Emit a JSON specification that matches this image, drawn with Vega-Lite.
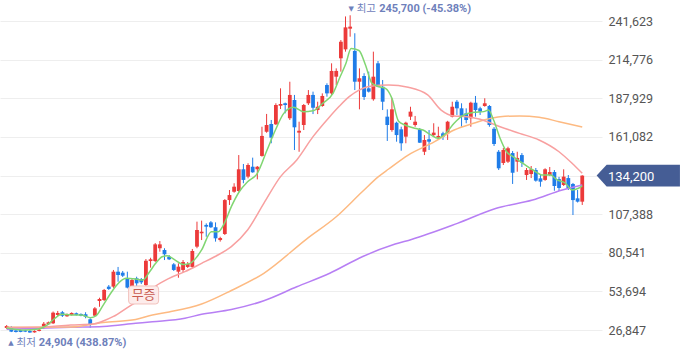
{
"$schema": "https://vega.github.io/schema/vega-lite/v6.json",
"width": 602, "height": 358,
"autosize": {"type": "none"},
"padding": {"left": 0, "top": 0, "right": 78, "bottom": 0},
"background": "white",
"config": {"view": {"stroke": null}},
"datasets": {
"candles": [
{"i":0,"o":28200,"h":30300,"l":27500,"c":29600},
{"i":1,"o":28400,"h":29600,"l":25400,"c":25700},
{"i":2,"o":26500,"h":26850,"l":25100,"c":25500},
{"i":3,"o":26800,"h":27200,"l":25300,"c":25500},
{"i":4,"o":26600,"h":27000,"l":25400,"c":25700},
{"i":5,"o":26200,"h":26800,"l":24904,"c":25100},
{"i":6,"o":25200,"h":26600,"l":25000,"c":26200},
{"i":7,"o":26200,"h":27500,"l":25900,"c":27100},
{"i":8,"o":28400,"h":32400,"l":27500,"c":31200},
{"i":9,"o":30800,"h":32700,"l":30300,"c":32200},
{"i":10,"o":31500,"h":39700,"l":31000,"c":38900},
{"i":11,"o":37300,"h":40100,"l":36600,"c":38700},
{"i":12,"o":39200,"h":40100,"l":35900,"c":36800},
{"i":13,"o":36400,"h":38300,"l":36000,"c":37800},
{"i":14,"o":37300,"h":39100,"l":36900,"c":38700},
{"i":15,"o":38500,"h":39000,"l":36900,"c":37300},
{"i":16,"o":38000,"h":38400,"l":36400,"c":36800},
{"i":17,"o":37800,"h":39200,"l":35000,"c":36100},
{"i":18,"o":34300,"h":35000,"l":28400,"c":30800},
{"i":19,"o":36800,"h":42800,"l":36600,"c":41900},
{"i":20,"o":47000,"h":49300,"l":43000,"c":48400},
{"i":21,"o":47700,"h":55400,"l":47000,"c":54700},
{"i":22,"o":57000,"h":58100,"l":54700,"c":55400},
{"i":23,"o":57000,"h":68600,"l":56100,"c":67400},
{"i":24,"o":67400,"h":70700,"l":60400,"c":65100},
{"i":25,"o":66700,"h":67900,"l":63700,"c":64600},
{"i":26,"o":62800,"h":67400,"l":55800,"c":56300},
{"i":27,"o":57400,"h":62300,"l":56700,"c":61600},
{"i":28,"o":62800,"h":63900,"l":57000,"c":59300},
{"i":29,"o":62300,"h":63000,"l":58800,"c":60000},
{"i":30,"o":58100,"h":76200,"l":57400,"c":75000},
{"i":31,"o":74800,"h":77100,"l":70200,"c":76000},
{"i":32,"o":74800,"h":87300,"l":74100,"c":86400},
{"i":33,"o":83700,"h":88700,"l":81300,"c":86400},
{"i":34,"o":82500,"h":83700,"l":75500,"c":79500},
{"i":35,"o":77800,"h":79000,"l":75500,"c":76000},
{"i":36,"o":72500,"h":73400,"l":67900,"c":68600},
{"i":37,"o":67400,"h":73200,"l":63200,"c":70900},
{"i":38,"o":68600,"h":75500,"l":67200,"c":74100},
{"i":39,"o":70700,"h":74100,"l":70000,"c":72700},
{"i":40,"o":70700,"h":83200,"l":70000,"c":81800},
{"i":41,"o":84800,"h":102200,"l":83700,"c":96400},
{"i":42,"o":94100,"h":102900,"l":89400,"c":95200},
{"i":43,"o":99900,"h":101000,"l":91700,"c":98700},
{"i":44,"o":101700,"h":102600,"l":97800,"c":98300},
{"i":45,"o":98300,"h":101700,"l":88300,"c":90600},
{"i":46,"o":89400,"h":91700,"l":88300,"c":90800},
{"i":47,"o":93600,"h":117900,"l":92900,"c":117200},
{"i":48,"o":117200,"h":124200,"l":113800,"c":120700},
{"i":49,"o":123000,"h":128900,"l":122300,"c":126500},
{"i":50,"o":123500,"h":148500,"l":123000,"c":138600},
{"i":51,"o":138600,"h":142300,"l":128900,"c":131200},
{"i":52,"o":133500,"h":142800,"l":132300,"c":141600},
{"i":53,"o":140400,"h":146700,"l":136200,"c":136500},
{"i":54,"o":138600,"h":140900,"l":131600,"c":140400},
{"i":55,"o":147900,"h":168200,"l":147400,"c":161800},
{"i":56,"o":164700,"h":177100,"l":164000,"c":169400},
{"i":57,"o":170100,"h":172900,"l":156700,"c":160600},
{"i":58,"o":169900,"h":184500,"l":169400,"c":183300},
{"i":59,"o":182800,"h":194900,"l":180500,"c":184000},
{"i":60,"o":184500,"h":185000,"l":177500,"c":183300},
{"i":61,"o":174100,"h":199500,"l":172900,"c":190300},
{"i":62,"o":186800,"h":190300,"l":152000,"c":167800},
{"i":63,"o":164100,"h":171700,"l":150800,"c":165400},
{"i":64,"o":169400,"h":184000,"l":165900,"c":183300},
{"i":65,"o":184500,"h":193700,"l":183300,"c":190300},
{"i":66,"o":190300,"h":192600,"l":177000,"c":181400},
{"i":67,"o":179800,"h":185600,"l":177000,"c":182100},
{"i":68,"o":182600,"h":191400,"l":182100,"c":189600},
{"i":69,"o":197200,"h":198400,"l":189100,"c":191400},
{"i":70,"o":191400,"h":212300,"l":190300,"c":207000},
{"i":71,"o":203000,"h":208800,"l":197200,"c":207000},
{"i":72,"o":215800,"h":228500,"l":206500,"c":227300},
{"i":73,"o":222000,"h":244900,"l":220400,"c":237300},
{"i":74,"o":236400,"h":245700,"l":230800,"c":237800},
{"i":75,"o":220900,"h":233200,"l":193700,"c":199500},
{"i":76,"o":199500,"h":208800,"l":180300,"c":201900},
{"i":77,"o":203500,"h":205400,"l":186800,"c":188900},
{"i":78,"o":194900,"h":206500,"l":192000,"c":192600},
{"i":79,"o":187300,"h":220400,"l":186300,"c":203000},
{"i":80,"o":212300,"h":213900,"l":195600,"c":196000},
{"i":81,"o":196000,"h":200700,"l":179800,"c":185600},
{"i":82,"o":175200,"h":180300,"l":158300,"c":169400},
{"i":83,"o":165900,"h":188000,"l":164700,"c":180300},
{"i":84,"o":171000,"h":171700,"l":157800,"c":162400},
{"i":85,"o":166400,"h":168200,"l":151500,"c":156700},
{"i":86,"o":161300,"h":171700,"l":156700,"c":171000},
{"i":87,"o":175200,"h":182100,"l":172900,"c":178700},
{"i":88,"o":169400,"h":175700,"l":168200,"c":171700},
{"i":89,"o":166400,"h":167300,"l":156900,"c":157100},
{"i":90,"o":150800,"h":162400,"l":148500,"c":159000},
{"i":91,"o":159500,"h":165900,"l":152000,"c":157800},
{"i":92,"o":162400,"h":170600,"l":161300,"c":164100},
{"i":93,"o":160600,"h":168200,"l":159000,"c":161800},
{"i":94,"o":163600,"h":164700,"l":159000,"c":161300},
{"i":95,"o":163600,"h":172300,"l":159000,"c":171700},
{"i":96,"o":175200,"h":185600,"l":174700,"c":182100},
{"i":97,"o":185600,"h":186800,"l":176400,"c":181000},
{"i":98,"o":181000,"h":184500,"l":168200,"c":175200},
{"i":99,"o":177500,"h":181000,"l":170600,"c":172900},
{"i":100,"o":174100,"h":185600,"l":168200,"c":184900},
{"i":101,"o":184900,"h":189600,"l":175200,"c":179800},
{"i":102,"o":181000,"h":182100,"l":176400,"c":178700},
{"i":103,"o":182600,"h":188000,"l":182100,"c":184500},
{"i":104,"o":182600,"h":183300,"l":168200,"c":169400},
{"i":105,"o":166800,"h":168000,"l":154800,"c":156200},
{"i":106,"o":150800,"h":152000,"l":138100,"c":139300},
{"i":107,"o":143000,"h":153400,"l":141600,"c":152000},
{"i":108,"o":143900,"h":154300,"l":143000,"c":153200},
{"i":109,"o":149900,"h":151300,"l":128400,"c":136200},
{"i":110,"o":143900,"h":150800,"l":136900,"c":146500},
{"i":111,"o":148500,"h":149900,"l":140200,"c":143200},
{"i":112,"o":134600,"h":139500,"l":131200,"c":138100},
{"i":113,"o":135300,"h":140900,"l":132500,"c":138600},
{"i":114,"o":138100,"h":139500,"l":130000,"c":130700},
{"i":115,"o":132300,"h":134600,"l":126500,"c":130000},
{"i":116,"o":131200,"h":139300,"l":130600,"c":138600},
{"i":117,"o":134600,"h":140200,"l":133900,"c":136700},
{"i":118,"o":136700,"h":138100,"l":123700,"c":127000},
{"i":119,"o":131800,"h":133300,"l":123500,"c":125600},
{"i":120,"o":127700,"h":138600,"l":127000,"c":133500},
{"i":121,"o":132500,"h":134600,"l":124200,"c":125600},
{"i":122,"o":128400,"h":129100,"l":106800,"c":117200},
{"i":123,"o":118400,"h":124200,"l":115500,"c":116100},
{"i":124,"o":116100,"h":134500,"l":113800,"c":134200}
],
"ma": [
{"s":"ma120","i":0,"v":27300},{"s":"ma120","i":13.8,"v":28700},{"s":"ma120","i":20.8,"v":29300},{"s":"ma120","i":27.8,"v":31500},{"s":"ma120","i":31.4,"v":32600},{"s":"ma120","i":38.4,"v":35000},{"s":"ma120","i":42,"v":37800},{"s":"ma120","i":48.4,"v":41100},{"s":"ma120","i":55.4,"v":47200},{"s":"ma120","i":62.5,"v":56900},{"s":"ma120","i":69.6,"v":66300},{"s":"ma120","i":76.6,"v":77800},{"s":"ma120","i":83.7,"v":86600},{"s":"ma120","i":87.2,"v":89800},{"s":"ma120","i":97.1,"v":101000},{"s":"ma120","i":105.5,"v":111500},{"s":"ma120","i":113.3,"v":117200},{"s":"ma120","i":119.7,"v":124200},{"s":"ma120","i":124,"v":127700},
{"s":"ma60","i":0,"v":28700},{"s":"ma60","i":13.8,"v":28900},{"s":"ma60","i":20.8,"v":32100},{"s":"ma60","i":27.8,"v":34200},{"s":"ma60","i":31.4,"v":37300},{"s":"ma60","i":35,"v":39400},{"s":"ma60","i":42,"v":44900},{"s":"ma60","i":48.4,"v":54300},{"s":"ma60","i":55.4,"v":66300},{"s":"ma60","i":64.6,"v":90100},{"s":"ma60","i":71,"v":105600},{"s":"ma60","i":76.6,"v":123000},{"s":"ma60","i":80.1,"v":133500},{"s":"ma60","i":82.3,"v":138800},{"s":"ma60","i":86.5,"v":148500},{"s":"ma60","i":92.2,"v":157800},{"s":"ma60","i":96.4,"v":165900},{"s":"ma60","i":100.6,"v":170600},{"s":"ma60","i":103.5,"v":173400},{"s":"ma60","i":106.3,"v":175200},{"s":"ma60","i":110.5,"v":175700},{"s":"ma60","i":114.7,"v":174800},{"s":"ma60","i":119,"v":171700},{"s":"ma60","i":124,"v":168000},
{"s":"ma20","i":0,"v":28600},{"s":"ma20","i":6.6,"v":28700},{"s":"ma20","i":13.8,"v":30300},{"s":"ma20","i":18.7,"v":31000},{"s":"ma20","i":20.8,"v":33100},{"s":"ma20","i":22.9,"v":36100},{"s":"ma20","i":26.5,"v":43500},{"s":"ma20","i":29.3,"v":48900},{"s":"ma20","i":32.1,"v":57400},{"s":"ma20","i":35,"v":62800},{"s":"ma20","i":38.4,"v":67400},{"s":"ma20","i":42,"v":73200},{"s":"ma20","i":44.8,"v":77800},{"s":"ma20","i":48.4,"v":84800},{"s":"ma20","i":51.9,"v":96400},{"s":"ma20","i":55.4,"v":114900},{"s":"ma20","i":59,"v":133500},{"s":"ma20","i":62.5,"v":145100},{"s":"ma20","i":66,"v":161300},{"s":"ma20","i":69.6,"v":175200},{"s":"ma20","i":71.7,"v":182600},{"s":"ma20","i":73.8,"v":189100},{"s":"ma20","i":75.9,"v":193700},{"s":"ma20","i":78,"v":196200},{"s":"ma20","i":82.3,"v":197200},{"s":"ma20","i":86.5,"v":195600},{"s":"ma20","i":90.7,"v":190300},{"s":"ma20","i":93.6,"v":179800},{"s":"ma20","i":96.4,"v":175700},{"s":"ma20","i":99.2,"v":175200},{"s":"ma20","i":102,"v":173400},{"s":"ma20","i":106.3,"v":168200},{"s":"ma20","i":110.5,"v":163600},{"s":"ma20","i":114.7,"v":159000},{"s":"ma20","i":119,"v":150800},{"s":"ma20","i":121.8,"v":142800},{"s":"ma20","i":124,"v":135800},
{"s":"ma5","i":0,"v":28200},{"s":"ma5","i":3.9,"v":26800},{"s":"ma5","i":6.8,"v":27500},{"s":"ma5","i":8.7,"v":30300},{"s":"ma5","i":10.2,"v":34500},{"s":"ma5","i":11.9,"v":37800},{"s":"ma5","i":13.8,"v":37300},{"s":"ma5","i":16,"v":37300},{"s":"ma5","i":18.1,"v":35400},{"s":"ma5","i":19.3,"v":36800},{"s":"ma5","i":20.8,"v":44200},{"s":"ma5","i":22.9,"v":54700},{"s":"ma5","i":24.4,"v":60400},{"s":"ma5","i":25.7,"v":62800},{"s":"ma5","i":27.8,"v":62300},{"s":"ma5","i":29.3,"v":61600},{"s":"ma5","i":30.8,"v":67400},{"s":"ma5","i":32.1,"v":73200},{"s":"ma5","i":33.5,"v":77800},{"s":"ma5","i":34.6,"v":78500},{"s":"ma5","i":36.3,"v":75500},{"s":"ma5","i":38,"v":72400},{"s":"ma5","i":39.5,"v":73200},{"s":"ma5","i":41,"v":77800},{"s":"ma5","i":42,"v":82500},{"s":"ma5","i":44.1,"v":95200},{"s":"ma5","i":45.6,"v":95200},{"s":"ma5","i":46.9,"v":101000},{"s":"ma5","i":48.4,"v":112600},{"s":"ma5","i":50.1,"v":123000},{"s":"ma5","i":51.9,"v":130000},{"s":"ma5","i":54,"v":135800},{"s":"ma5","i":56.1,"v":152000},{"s":"ma5","i":57.9,"v":165900},{"s":"ma5","i":59.7,"v":177500},{"s":"ma5","i":61.8,"v":181700},{"s":"ma5","i":63.9,"v":178700},{"s":"ma5","i":66,"v":179300},{"s":"ma5","i":68.1,"v":184500},{"s":"ma5","i":70.3,"v":191400},{"s":"ma5","i":71.7,"v":201900},{"s":"ma5","i":73.1,"v":212300},{"s":"ma5","i":74.2,"v":222600},{"s":"ma5","i":75.9,"v":221200},{"s":"ma5","i":77.3,"v":211100},{"s":"ma5","i":78.7,"v":198400},{"s":"ma5","i":80.1,"v":196200},{"s":"ma5","i":81.6,"v":194900},{"s":"ma5","i":83,"v":187900},{"s":"ma5","i":84.4,"v":172200},{"s":"ma5","i":85.8,"v":169400},{"s":"ma5","i":87.9,"v":167100},{"s":"ma5","i":89.7,"v":165900},{"s":"ma5","i":91.4,"v":162500},{"s":"ma5","i":92.9,"v":160200},{"s":"ma5","i":94.6,"v":163600},{"s":"ma5","i":96.4,"v":170600},{"s":"ma5","i":98.5,"v":176400},{"s":"ma5","i":100.6,"v":178200},{"s":"ma5","i":102.8,"v":178700},{"s":"ma5","i":103.8,"v":179800},{"s":"ma5","i":104.9,"v":172900},{"s":"ma5","i":106.3,"v":160200},{"s":"ma5","i":107.7,"v":150800},{"s":"ma5","i":109.1,"v":147400},{"s":"ma5","i":111.2,"v":142800},{"s":"ma5","i":113.4,"v":138100},{"s":"ma5","i":115.5,"v":134600},{"s":"ma5","i":117.2,"v":134600},{"s":"ma5","i":118.6,"v":131200},{"s":"ma5","i":120.4,"v":128900},{"s":"ma5","i":121.8,"v":124200},{"s":"ma5","i":123.2,"v":125400},{"s":"ma5","i":124,"v":127000}
]
},
"layer": [
{"data": {"name": "candles"},
 "mark": {"type": "rule", "strokeWidth": 1},
 "encoding": {
  "x": {"field": "i", "type": "quantitative", "scale": {"domain": [-0.36, 127.18], "nice": false, "zero": false}, "axis": null},
  "y": {"field": "l", "type": "quantitative", "title": null,
        "scale": {"domain": [7376, 256329], "nice": false, "zero": false},
        "axis": {"orient": "right", "title": null, "values": [26847, 53694, 80541, 107388, 134235, 161082, 187929, 214776, 241623],
                 "grid": true, "gridColor": "#eeeeee", "gridWidth": 1, "domain": false, "ticks": false,
                 "labelPadding": 6, "labelFont": "Roboto", "labelFontSize": 12.5, "labelColor": "#555555",
                 "labelBound": false, "labelOverlap": false,
                 "labelExpr": "datum.value == 134235 ? '' : format(datum.value, ',')"}},
  "y2": {"field": "h"},
  "color": {"condition": {"test": "datum.c >= datum.o", "value": "#ec3a3a"}, "value": "#1f7ce8"}
 }},
{"data": {"name": "candles"},
 "mark": {"type": "bar", "width": 3.8},
 "encoding": {
  "x": {"field": "i", "type": "quantitative"},
  "y": {"field": "o", "type": "quantitative", "title": null},
  "y2": {"field": "c"},
  "color": {"condition": {"test": "datum.c >= datum.o", "value": "#ec3a3a"}, "value": "#1f7ce8"}
 }},
{"data": {"name": "ma"},
 "mark": {"type": "line", "strokeWidth": 1.5, "interpolate": "monotone"},
 "encoding": {
  "x": {"field": "i", "type": "quantitative"},
  "y": {"field": "v", "type": "quantitative", "title": null},
  "color": {"field": "s", "type": "nominal", "legend": null,
            "scale": {"domain": ["ma120", "ma60", "ma20", "ma5"], "range": ["#b77ff4", "#fdba82", "#f8a0a0", "#80d672"]}}
 }},
{"data": {"values": [{"i": 29.5, "v": 51200, "t": "무증"}]},
 "mark": {"type": "point", "shape": "M-0.8,-0.6 L0.8,-0.6 Q1,-0.6 1,-0.4 L1,0.4 Q1,0.6 0.8,0.6 L-0.8,0.6 Q-1,0.6 -1,0.4 L-1,-0.4 Q-1,-0.6 -0.8,-0.6 Z",
          "size": 900, "filled": true, "fill": "#fdeceb", "stroke": "#f2c2bd", "strokeWidth": 1, "opacity": 1},
 "encoding": {
  "x": {"field": "i", "type": "quantitative"},
  "y": {"field": "v", "type": "quantitative", "title": null}
 }},
{"data": {"values": [{"i": 29.5, "v": 51200, "t": "무증"}]},
 "mark": {"type": "text", "font": "Noto Sans CJK KR", "fontSize": 13, "color": "#c85a50", "align": "center", "baseline": "middle", "dy": 0.5},
 "encoding": {
  "x": {"field": "i", "type": "quantitative"},
  "y": {"field": "v", "type": "quantitative", "title": null},
  "text": {"field": "t"}
 }},
{"data": {"values": [{"i": 74, "v": 245700, "t": "▼"}]},
 "mark": {"type": "text", "font": "DejaVu Sans", "fontSize": 7, "color": "#6e80bb", "align": "center", "baseline": "middle", "dx": 1, "dy": -6.5},
 "encoding": {"x": {"field": "i", "type": "quantitative"}, "y": {"field": "v", "type": "quantitative", "title": null}, "text": {"field": "t"}}},
{"data": {"values": [{"i": 74, "v": 245700, "t": "최고"}]},
 "mark": {"type": "text", "font": "Noto Sans CJK KR", "fontSize": 10.5, "color": "#6e80bb", "align": "left", "baseline": "middle", "dx": 6.5, "dy": -6},
 "encoding": {"x": {"field": "i", "type": "quantitative"}, "y": {"field": "v", "type": "quantitative", "title": null}, "text": {"field": "t"}}},
{"data": {"values": [{"i": 74, "v": 245700, "t": "245,700 (-45.38%)"}]},
 "mark": {"type": "text", "font": "Roboto", "fontSize": 11, "fontWeight": "bold", "color": "#6e80bb", "align": "left", "baseline": "middle", "dx": 29, "dy": -6},
 "encoding": {"x": {"field": "i", "type": "quantitative"}, "y": {"field": "v", "type": "quantitative", "title": null}, "text": {"field": "t"}}},
{"data": {"values": [{"i": 0, "v": 24904, "t": "▲"}]},
 "mark": {"type": "text", "font": "DejaVu Sans", "fontSize": 7, "color": "#6e80bb", "align": "center", "baseline": "middle", "dx": 4.3, "dy": 10.5},
 "encoding": {"x": {"field": "i", "type": "quantitative"}, "y": {"field": "v", "type": "quantitative", "title": null}, "text": {"field": "t"}}},
{"data": {"values": [{"i": 0, "v": 24904, "t": "최저"}]},
 "mark": {"type": "text", "font": "Noto Sans CJK KR", "fontSize": 10.5, "color": "#6e80bb", "align": "left", "baseline": "middle", "dx": 9.8, "dy": 10.5},
 "encoding": {"x": {"field": "i", "type": "quantitative"}, "y": {"field": "v", "type": "quantitative", "title": null}, "text": {"field": "t"}}},
{"data": {"values": [{"i": 0, "v": 24904, "t": "24,904 (438.87%)"}]},
 "mark": {"type": "text", "font": "Roboto", "fontSize": 11, "fontWeight": "bold", "color": "#6e80bb", "align": "left", "baseline": "middle", "dx": 32, "dy": 10.5},
 "encoding": {"x": {"field": "i", "type": "quantitative"}, "y": {"field": "v", "type": "quantitative", "title": null}, "text": {"field": "t"}}},
{"data": {"values": [{"v": 134200, "t": "134,200"}]},
 "mark": {"type": "point", "shape": "M-1,0 L-0.76,-0.26 L1,-0.26 L1,0.26 L-0.76,0.26 Z", "size": 6939, "filled": true, "fill": "#455d95", "opacity": 1, "strokeWidth": 0, "x": {"expr": "width + 36.3"}},
 "encoding": {"y": {"field": "v", "type": "quantitative", "title": null}}},
{"data": {"values": [{"v": 134200, "t": "134,200"}]},
 "mark": {"type": "text", "font": "Roboto", "fontSize": 13, "color": "#ffffff", "align": "left", "baseline": "middle", "x": {"expr": "width + 6"}, "dy": 1},
 "encoding": {"y": {"field": "v", "type": "quantitative", "title": null}, "text": {"field": "t"}}}
]
}
